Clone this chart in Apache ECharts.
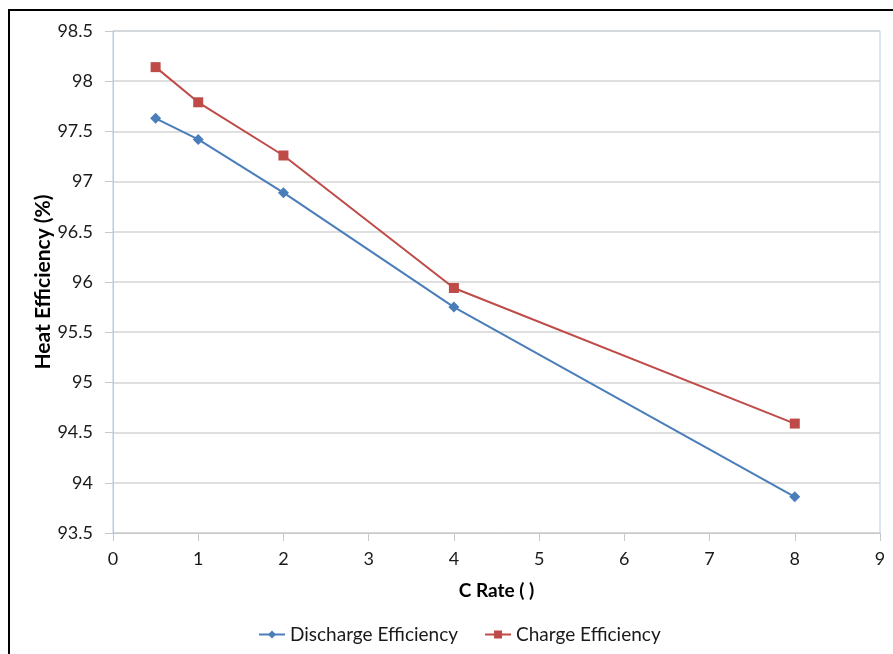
<!DOCTYPE html>
<html>
<head>
<meta charset="utf-8">
<script src="https://cdn.jsdelivr.net/npm/echarts@6/dist/echarts.min.js"></script>
<style>
  html, body { margin: 0; padding: 0; background: #ffffff; }
  #chart { width: 893px; height: 654px; }
</style>
</head>
<body>
<div id="chart"></div>
<script>
// C rate values and the matching heat efficiencies (%)
const cRates = [0.5, 1, 2, 4, 8];
const dischargeEfficiency = [97.63, 97.42, 96.89, 95.75, 93.86];
const chargeEfficiency = [98.14, 97.79, 97.26, 95.94, 94.59];
const seriesNames = ['Discharge Efficiency', 'Charge Efficiency'];

const pairs = (xs, ys) => xs.map((x, i) => [x, ys[i]]);
const font = 'Lato, "Open Sans", "Liberation Sans", sans-serif';

const chart = echarts.init(document.getElementById('chart'), null, { renderer: 'canvas' });
chart.setOption({
  animation: false,
  backgroundColor: '#ffffff',
  textStyle: { fontFamily: font },
  graphic: [{
    type: 'rect',
    shape: { x: 9, y: 10, width: 910, height: 670 },
    style: { fill: 'none', stroke: '#000000', lineWidth: 2 },
    silent: true
  }],
  grid: {
    left: 113, top: 31, right: 13, bottom: 121,
    show: true, borderColor: '#b9cde5', borderWidth: 1,
    containLabel: false
  },
  legend: {
    bottom: 10, left: 258, padding: 0,
    itemWidth: 26, itemHeight: 10, itemGap: 26,
    textStyle: { fontFamily: font, fontSize: 19, color: '#1a1a1a' },
    data: seriesNames
  },
  xAxis: {
    type: 'value', min: 0, max: 9, interval: 1,
    name: 'C Rate ( )', nameLocation: 'middle', nameGap: 48,
    nameTextStyle: { fontFamily: font, fontSize: 19, fontWeight: 'bold', color: '#000000' },
    axisLine: { show: true, lineStyle: { color: '#c8c8c8', width: 1 } },
    axisTick: { show: true, length: 8, lineStyle: { color: '#c8c8c8' } },
    axisLabel: { fontFamily: font, fontSize: 18, color: '#1a1a1a', margin: 17 },
    splitLine: { show: false }
  },
  yAxis: {
    type: 'value', min: 93.5, max: 98.5, interval: 0.5,
    name: 'Heat Efficiency (%)', nameLocation: 'middle', nameGap: 59, nameRotate: 90,
    nameMoveOverlap: false,
    nameTextStyle: { fontFamily: font, fontSize: 21, fontWeight: 'bold', color: '#000000' },
    axisLine: { show: true, lineStyle: { color: '#c8c8c8', width: 1 } },
    axisTick: { show: true, length: 8, lineStyle: { color: '#c8c8c8' } },
    axisLabel: { fontFamily: font, fontSize: 18, color: '#1a1a1a', margin: 20 },
    splitLine: { show: true, lineStyle: { color: '#d4d4d4', width: 1.5 } }
  },
  series: [
    {
      name: seriesNames[0], type: 'line',
      data: pairs(cRates, dischargeEfficiency),
      symbol: 'diamond', symbolSize: 11,
      lineStyle: { color: '#4a7ebb', width: 2 },
      itemStyle: { color: '#4a7ebb' }
    },
    {
      name: seriesNames[1], type: 'line',
      data: pairs(cRates, chargeEfficiency),
      symbol: 'rect', symbolSize: 10,
      lineStyle: { color: '#be4b48', width: 2 },
      itemStyle: { color: '#be4b48' }
    }
  ]
});
</script>
</body>
</html>
